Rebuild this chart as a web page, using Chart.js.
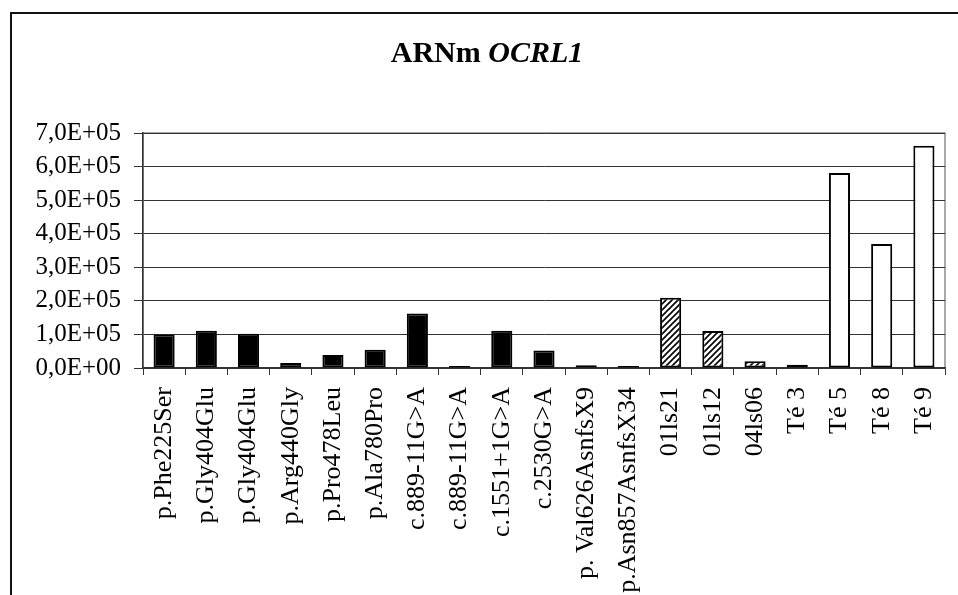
<!DOCTYPE html>
<html>
<head>
<meta charset="utf-8">
<script src="https://cdn.jsdelivr.net/npm/chart.js@4"></script>
<style>
  html, body { margin: 0; padding: 0; background: #fff; }
  #wrap { width: 958px; height: 595px; }
</style>
</head>
<body>
<div id="wrap"><canvas id="ocrlChart" width="958" height="595"></canvas></div>
<script>
const labels = [
  'p.Phe225Ser', 'p.Gly404Glu', 'p.Gly404Glu', 'p.Arg440Gly', 'p.Pro478Leu',
  'p.Ala780Pro', 'c.889-11G>A', 'c.889-11G>A', 'c.1551+1G>A', 'c.2530G>A',
  'p. Val626AsnfsX9', 'p.Asn857AsnfsX34', '01ls21', '01ls12', '04ls06',
  'Té 3', 'Té 5', 'Té 8', 'Té 9'
]
const values = [
  100000, 111000, 102000, 15000, 39000,
  54000, 162000, 2000, 111000, 52000,
  8000, 3000, 209000, 110000, 20000,
  10000, 581000, 369000, 662000
]
// 'p' = patients (black), 'l' = cell lines (hatched), 't' = controls (white)
const groups = [
  'p', 'p', 'p', 'p', 'p', 'p', 'p', 'p', 'p', 'p', 'p', 'p',
  'l', 'l', 'l',
  't', 't', 't', 't'
]
const yTicks = [0, 100000, 200000, 300000, 400000, 500000, 600000, 700000]

const serif = "'Liberation Serif', 'Times New Roman', serif"

const makeHatch = () => {
  let c = document.createElement('canvas')
  c.width = 6
  c.height = 6
  let g = c.getContext('2d')
  g.fillStyle = '#fff'
  g.fillRect(0, 0, 6, 6)
  g.strokeStyle = '#000'
  g.lineWidth = 1.6
  g.beginPath()
  g.moveTo(-1, 7); g.lineTo(7, -1)
  g.moveTo(-4, 4); g.lineTo(4, -4)
  g.moveTo(2, 10); g.lineTo(10, 2)
  g.stroke()
  return g.createPattern(c, 'repeat')
}

const formatTick = (v) => {
  if (v === 0) return '0,0E+00'
  return (v / 100000).toFixed(1).replace('.', ',') + 'E+05'
}

const frame = {
  id: 'frame',
  beforeDraw (chart) {
    const { ctx, chartArea } = chart
    ctx.save()
    ctx.fillStyle = '#fff'
    ctx.fillRect(0, 0, chart.width, chart.height)
    // outer border
    ctx.strokeStyle = '#111'
    ctx.lineWidth = 2
    ctx.strokeRect(11, 13, 1000, 1000)
    // plot area frame
    ctx.strokeStyle = '#8c8c8c'
    ctx.lineWidth = 1.5
    ctx.strokeRect(chartArea.left, chartArea.top, chartArea.right - chartArea.left, chartArea.bottom - chartArea.top)
    // title, mixed styles
    ctx.fillStyle = '#000'
    ctx.textBaseline = 'alphabetic'
    ctx.font = 'bold 30px ' + serif
    let a = 'ARNm '
    let wa = ctx.measureText(a).width
    ctx.font = 'italic bold 30px ' + serif
    let b = 'OCRL1'
    let wb = ctx.measureText(b).width
    let x0 = 487 - (wa + wb) / 2
    ctx.font = 'bold 30px ' + serif
    ctx.textAlign = 'left'
    ctx.fillText(a, x0, 62)
    ctx.font = 'italic bold 30px ' + serif
    ctx.fillText(b, x0 + wa, 62)
    ctx.restore()
  }
}

const hatch = makeHatch()
const fills = groups.map(g => g === 'p' ? '#000' : g === 'l' ? hatch : '#fff')

new Chart(document.getElementById('ocrlChart'), {
  type: 'bar',
  data: {
    labels: labels,
    datasets: [{
      data: values,
      backgroundColor: fills,
      borderColor: '#000',
      borderWidth: 2,
      borderSkipped: false,
      minBarLength: 2,
      barPercentage: 0.5,
      categoryPercentage: 1
    }]
  },
  options: {
    responsive: false,
    animation: false,
    layout: { padding: { top: 133, right: 13, left: 0, bottom: 0 } },
    plugins: {
      legend: { display: false },
      title: { display: false },
      tooltip: { enabled: false }
    },
    scales: {
      x: {
        afterFit: (s) => {
          s.height = 227
          s.paddingLeft = 0
          s.paddingRight = 0
        },
        grid: {
          offset: true,
          drawOnChartArea: false,
          drawTicks: true,
          tickLength: 7,
          color: '#333',
          lineWidth: 1
        },
        border: { color: '#333', width: 1.5 },
        ticks: {
          color: '#000',
          font: { family: serif, size: 26 },
          maxRotation: 90,
          minRotation: 90,
          padding: 12,
          autoSkip: false
        }
      },
      y: {
        min: 0,
        max: 700000,
        afterFit: (s) => { s.width = 143 },
        afterBuildTicks: (s) => { s.ticks = yTicks.map(v => ({ value: v })) },
        grid: {
          color: '#333',
          lineWidth: 1,
          tickLength: 9,
          drawTicks: true
        },
        border: { color: '#333', width: 1.5 },
        ticks: {
          color: '#000',
          font: { family: serif, size: 25 },
          padding: 13,
          callback: (v) => formatTick(v)
        }
      }
    }
  },
  plugins: [frame]
})
</script>
</body>
</html>
